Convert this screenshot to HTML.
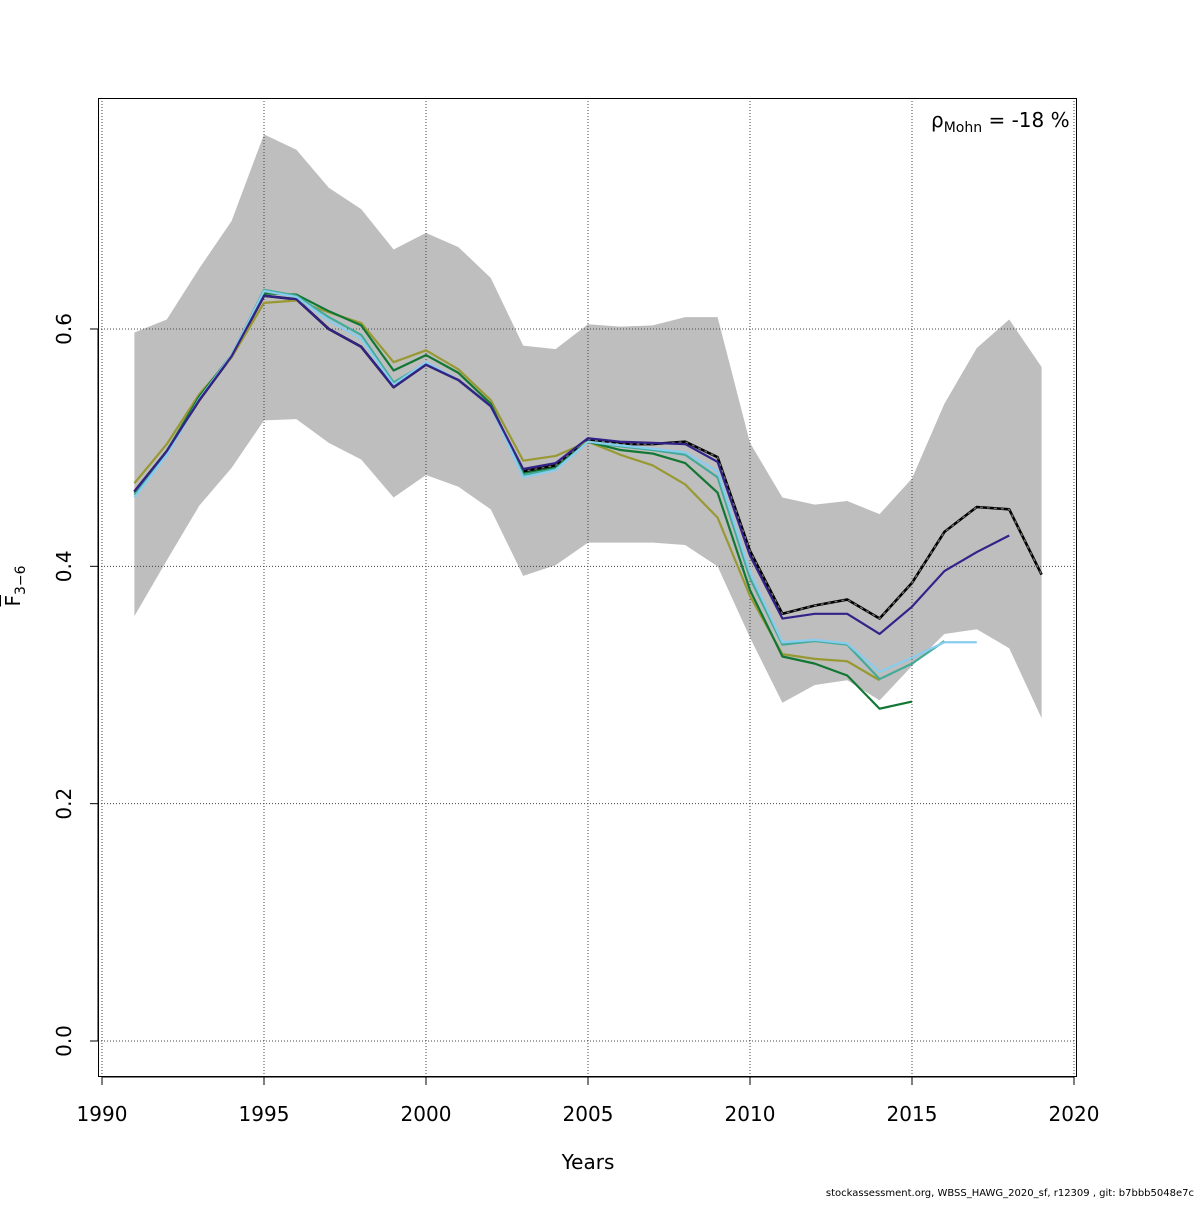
<!DOCTYPE html>
<html><head><meta charset="utf-8"><style>
body{margin:0;background:#fff}
svg text{font-family:"DejaVu Sans","Liberation Sans",sans-serif}
</style></head><body>
<svg id="c" width="1200" height="1200" xmlns="http://www.w3.org/2000/svg"></svg>
<script>
const years=[1991,1992,1993,1994,1995,1996,1997,1998,1999,2000,2001,2002,2003,2004,2005,2006,2007,2008,2009,2010,2011,2012,2013,2014,2015,2016,2017,2018,2019];
const upper=[0.597,0.608,0.651,0.691,0.764,0.751,0.719,0.701,0.667,0.681,0.669,0.643,0.586,0.583,0.604,0.602,0.603,0.610,0.610,0.504,0.458,0.452,0.455,0.444,0.474,0.537,0.584,0.608,0.568];
const lower=[0.358,0.405,0.451,0.483,0.523,0.524,0.504,0.490,0.458,0.477,0.467,0.448,0.392,0.401,0.420,0.420,0.420,0.418,0.400,0.340,0.285,0.300,0.304,0.287,0.316,0.343,0.347,0.331,0.272];
const run2019=[0.463,0.497,0.540,0.577,0.628,0.625,0.600,0.585,0.551,0.570,0.557,0.535,0.480,0.485,0.507,0.503,0.503,0.505,0.492,0.413,0.360,0.367,0.372,0.356,0.386,0.429,0.450,0.448,0.393];
const run2018=[0.463,0.497,0.540,0.577,0.628,0.625,0.600,0.585,0.551,0.570,0.557,0.535,0.482,0.487,0.508,0.505,0.504,0.503,0.488,0.409,0.356,0.360,0.360,0.343,0.366,0.396,0.412,0.426];
const run2017=[0.458,0.494,0.541,0.578,0.632,0.627,0.607,0.592,0.553,0.572,0.557,0.535,0.475,0.481,0.505,0.502,0.499,0.496,0.480,0.395,0.336,0.338,0.335,0.311,0.323,0.336,0.336];
const run2016=[0.460,0.495,0.541,0.578,0.633,0.628,0.610,0.595,0.555,0.571,0.557,0.535,0.477,0.482,0.505,0.501,0.498,0.494,0.475,0.390,0.334,0.337,0.334,0.305,0.318,0.337];
const run2015=[0.462,0.497,0.543,0.578,0.630,0.629,0.615,0.603,0.565,0.578,0.563,0.537,0.478,0.483,0.505,0.498,0.495,0.487,0.462,0.380,0.324,0.318,0.308,0.280,0.286];
const run2014=[0.470,0.503,0.545,0.576,0.622,0.624,0.614,0.605,0.572,0.582,0.566,0.540,0.489,0.493,0.505,0.494,0.485,0.469,0.441,0.375,0.326,0.322,0.320,0.304];
const xTicks=[1990,1995,2000,2005,2010,2015,2020];
const yTicks=[0.0,0.2,0.4,0.6];
const yTickLabels=["0.0","0.2","0.4","0.6"];

const X=y=>102+(y-1990)*32.4;
const Y=v=>1041-v*1186.7;
const svg=document.getElementById('c');
const NS='http://www.w3.org/2000/svg';
function el(t,a,p){const e=document.createElementNS(NS,t);for(const k in a)e.setAttribute(k,a[k]);(p||svg).appendChild(e);return e;}

let pts=years.map((y,i)=>X(y)+','+Y(upper[i]));
for(let i=years.length-1;i>=0;i--)pts.push(X(years[i])+','+Y(lower[i]));
const band=el('polygon',{points:pts.join(' '),fill:'#bebebe'});



xTicks.forEach(t=>{const g=el('line',{x1:X(t),x2:X(t),y1:98,y2:1077,stroke:'#444','stroke-width':1,'stroke-dasharray':'1,2'});

});
yTicks.forEach(t=>{const g=el('line',{x1:98,x2:1077,y1:Y(t),y2:Y(t),stroke:'#444','stroke-width':1,'stroke-dasharray':'1,2'});

});

function line(data,color,name,w,dash){
  const p=data.map((v,i)=>X(years[i])+','+Y(v)).join(' ');
  const l=el('polyline',{points:p,fill:'none',stroke:color,'stroke-width':w||2.2,'stroke-linejoin':'round'});
  if(dash)l.setAttribute('stroke-dasharray',dash);
  
  
  return l;
}
line(run2019,'#000','series-2019',2.6);
line(run2019,'#777','series-2019-dash',1.2,'3,4');
line(run2014,'#999933','series-2014');
line(run2015,'#117733','series-2015');
line(run2016,'#44aa99','series-2016');
line(run2017,'#88ccee','series-2017');
line(run2018,'#332288','series-2018');

const box=el('rect',{x:98.5,y:98.5,width:978,height:978,fill:'none',stroke:'#000','stroke-width':1});


xTicks.forEach(t=>{el('line',{x1:X(t),x2:X(t),y1:1077,y2:1085,stroke:'#000'});
const tx=el('text',{x:X(t),y:1121,'text-anchor':'middle','font-size':20});tx.textContent=t;

});
el('line',{x1:X(1990),x2:X(2020),y1:1077,y2:1077,stroke:'#000'});
yTicks.forEach((t,i)=>{el('line',{x1:90,x2:98,y1:Y(t),y2:Y(t),stroke:'#000'});
const tx=el('text',{x:71,y:Y(t),'text-anchor':'middle','font-size':20,transform:`rotate(-90 71 ${Y(t)})`});tx.textContent=yTickLabels[i];

});
el('line',{x1:98,x2:98,y1:Y(0),y2:Y(0.6),stroke:'#000'});
</script>
<div style="position:absolute;left:0;top:0;width:1200px;height:1200px;pointer-events:none;font-family:'DejaVu Sans','Liberation Sans',sans-serif">
<div style="position:absolute;left:540px;top:1150px;width:96px;text-align:center;font-size:20px">Years</div>
<div style="position:absolute;left:-20px;top:572px;width:70px;text-align:center;font-size:20px;transform:rotate(-90deg)"><span style="text-decoration:overline">F</span><sub style="font-size:14px">3−6</sub></div>
<div style="position:absolute;left:931px;top:108px;font-size:20px">ρ<sub style="font-size:14px">Mohn</sub> = -18 %</div>
<div style="position:absolute;right:6px;top:1188px;font-size:10px;white-space:nowrap">stockassessment.org, WBSS_HAWG_2020_sf, r12309 , git: b7bbb5048e7c</div>
</div>
</body></html>
